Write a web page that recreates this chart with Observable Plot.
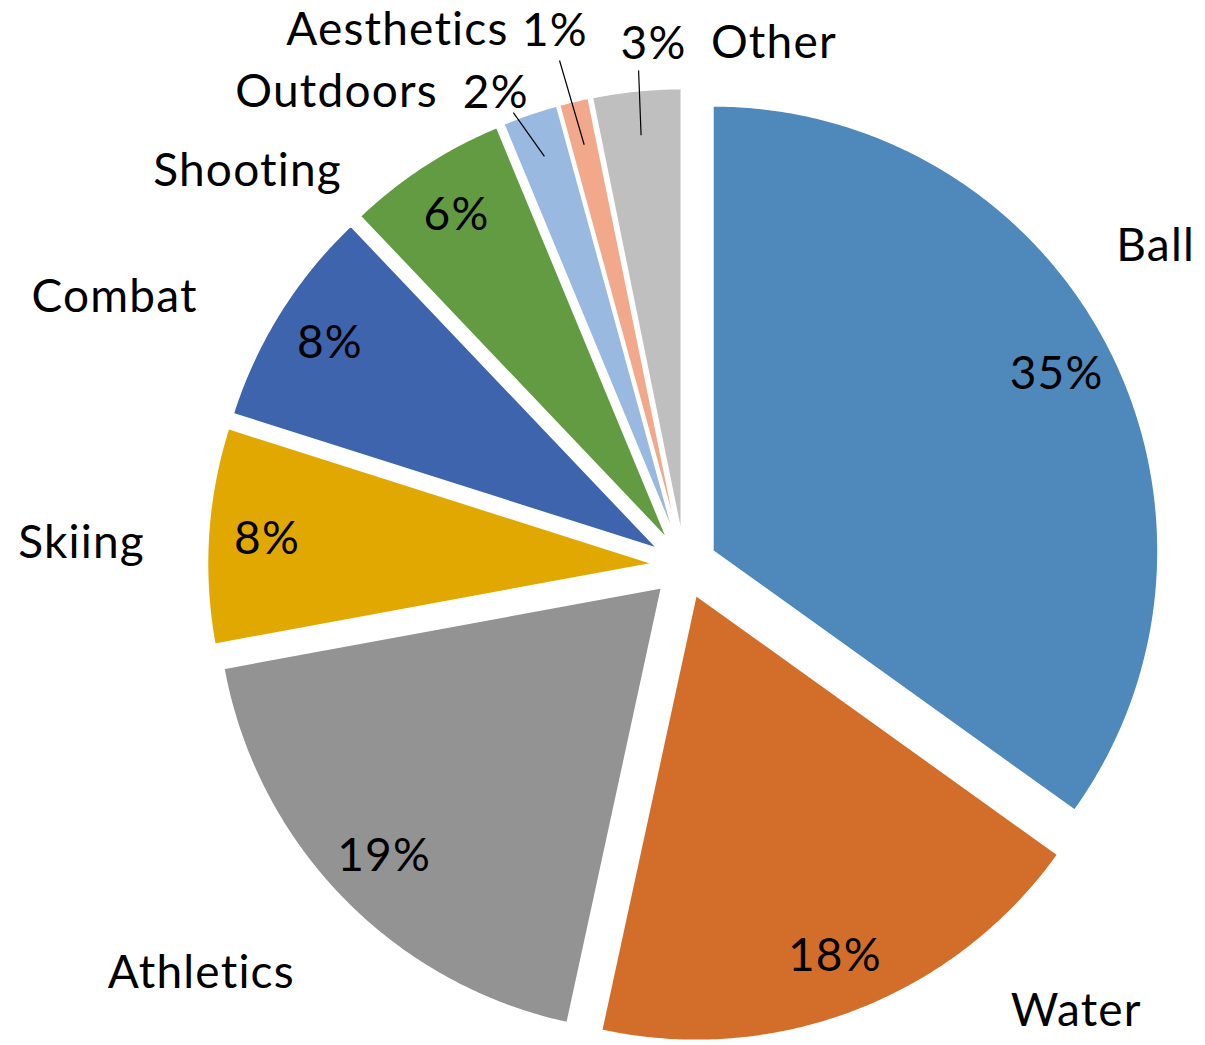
<!DOCTYPE html>
<html>
<head>
<meta charset="utf-8">
<script src="https://cdn.jsdelivr.net/npm/d3@7"></script>
<script src="https://cdn.jsdelivr.net/npm/@observablehq/plot@0.6"></script>
<style>
  html, body { margin: 0; padding: 0; background: #ffffff; }
  #chart svg { display: block; }
  #chart svg text { font-variant-ligatures: none; font-feature-settings: "liga" 0, "clig" 0; letter-spacing: 1.2px; }
</style>
</head>
<body>
<div id="chart"></div>
<script>
// ---------- data ----------
const categories = ["Ball", "Water", "Athletics", "Skiing", "Combat", "Shooting", "Outdoors", "Aesthetics", "Other"];
const shares = [34.9, 18.5, 18.7, 7.8, 8.0, 5.85, 2.0, 1.05, 3.2];
const percentLabels = ["35%", "18%", "19%", "8%", "8%", "6%", "2%", "1%", "3%"];
const sliceColors = ["#4F88BB", "#D26E2A", "#939393", "#E0A800", "#3D64AD", "#629B41", "#99B9E0", "#F1A88B", "#BFBFBF"];

// ---------- layout (not data) ----------
const W = 1205, H = 1045;
const R = 445, CX = 684, CY = 565;          // pie radius and centre in pixels
const EXPLODE = 32 / R;                      // explosion distance, in radius units
const INSIDE_R = 0.94;                       // inside labels, radius from centre
const SMALL = new Set(["Outdoors", "Aesthetics", "Other"]); // percent shown outside with leader line
// label placement: [angle in degrees clockwise from 12 o'clock, distance from centre in radius units]
const nameLabelPos = {
  Ball: [57.1, 1.261], Water: [139.6, 1.358], Athletics: [228.8, 1.443],
  Skiing: [270.76, 1.355], Combat: [294.0, 1.402], Shooting: [311.0, 1.301],
  Outdoors: [322.8, 1.293], Aesthetics: [331.1, 1.335], Other: [10.0, 1.157]
};
const pctOutsidePos = { Outdoors: [337.6, 1.113], Aesthetics: [346.0, 1.204], Other: [356.5, 1.141] };
const leaderEndPos = { Outdoors: [339.3, 1.088], Aesthetics: [346.1, 1.169], Other: [354.7, 1.117] };
const LEADER_IN = 0.9;
const FONT = "Lato, Carlito, Calibri, 'Noto Sans', sans-serif";
const FS = 46;

// ---------- build ----------
const rows = categories.map((c, i) => ({ category: c, share: shares[i], pct: percentLabels[i], color: sliceColors[i] }));
const arcs = d3.pie().sort(null).value(d => d.share)(rows);
const deg = Math.PI / 180;
const polar = ([a, r]) => ({ x: r * Math.sin(a * deg), y: r * Math.cos(a * deg) });

const slicePts = [];
const insideLabels = [];
const leaders = [];
const outsideTexts = [];
for (const p of arcs) {
  const d = p.data;
  const mid = (p.startAngle + p.endAngle) / 2;
  const ox = EXPLODE * Math.sin(mid), oy = EXPLODE * Math.cos(mid);
  slicePts.push({ category: d.category, color: d.color, x: ox, y: oy });
  const n = Math.max(4, Math.ceil((p.endAngle - p.startAngle) / (0.5 * deg)));
  for (let i = 0; i <= n; i++) {
    const a = p.startAngle + (p.endAngle - p.startAngle) * i / n;
    slicePts.push({ category: d.category, color: d.color, x: ox + Math.sin(a), y: oy + Math.cos(a) });
  }
  if (SMALL.has(d.category)) {
    const e = polar(leaderEndPos[d.category]);
    leaders.push({ x1: ox + LEADER_IN * Math.sin(mid), y1: oy + LEADER_IN * Math.cos(mid), x2: e.x, y2: e.y });
    const t = polar(pctOutsidePos[d.category]);
    outsideTexts.push({ x: t.x, y: t.y, text: d.pct });
  } else {
    insideLabels.push({ x: INSIDE_R * Math.sin(mid), y: INSIDE_R * Math.cos(mid), text: d.pct });
  }
  const nl = polar(nameLabelPos[d.category]);
  outsideTexts.push({ x: nl.x, y: nl.y, text: d.category });
}

const chart = Plot.plot({
  width: W,
  height: H,
  margin: 0,
  x: { domain: [-CX / R, (W - CX) / R], axis: null },
  y: { domain: [-(H - CY) / R, CY / R], axis: null },
  color: { type: "identity" },
  style: { background: "#ffffff", fontFamily: FONT },
  marks: [
    Plot.line(slicePts, { x: "x", y: "y", z: "category", fill: "color", stroke: "#ffffff", strokeWidth: 1.5, curve: "linear-closed" }),
    Plot.link(leaders, { x1: "x1", y1: "y1", x2: "x2", y2: "y2", stroke: "#000000", strokeWidth: 1.2 }),
    Plot.text(insideLabels, { x: "x", y: "y", text: "text", fontSize: FS, fill: "#000000", textAnchor: "middle", lineAnchor: "middle", fontFamily: FONT }),
    Plot.text(outsideTexts, { x: "x", y: "y", text: "text", fontSize: FS, fill: "#000000", textAnchor: "middle", lineAnchor: "bottom", fontFamily: FONT })
  ]
});
document.getElementById("chart").appendChild(chart);
</script>
</body>
</html>
